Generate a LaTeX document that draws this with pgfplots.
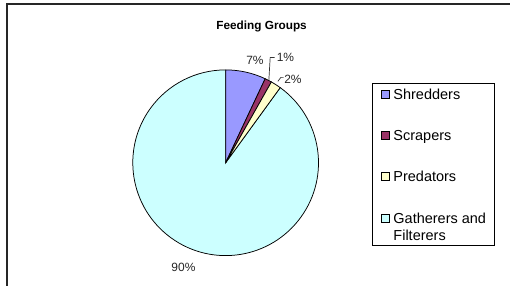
\documentclass[border=0pt]{standalone}
\usepackage{pgfplots}
\pgfplotsset{compat=1.18}
\usepackage{pgfplotstable}
\usepackage{fontspec}
\setmainfont{Liberation Sans}
\definecolor{shred}{RGB}{153,153,255}
\definecolor{scrap}{RGB}{153,51,102}
\definecolor{pred}{RGB}{255,255,204}
\definecolor{gath}{RGB}{204,255,255}

\pgfplotstableread{
name value
Shredders 7.0
Scrapers 1.2
Predators 1.8
Gatherers 90.0
}\pietable

\begin{document}
\begin{tikzpicture}
\pgfplotstablegetelem{0}{value}\of\pietable \let\vA\pgfplotsretval
\pgfplotstablegetelem{1}{value}\of\pietable \let\vB\pgfplotsretval
\pgfplotstablegetelem{2}{value}\of\pietable \let\vC\pgfplotsretval
\pgfplotstablegetelem{3}{value}\of\pietable \let\vD\pgfplotsretval
\pgfmathsetmacro\aA{90-3.6*\vA}
\pgfmathsetmacro\aB{\aA-3.6*\vB}
\pgfmathsetmacro\aC{\aB-3.6*\vC}
\pgfmathsetmacro\aD{\aC-3.6*\vD}
\begin{axis}[
  scale only axis, width=511bp, height=286bp,
  xmin=0, xmax=511, ymin=0, ymax=286, y dir=reverse,
  hide axis, clip=false,
  legend cell align=left,
  legend style={
    at={(axis cs:373,83)}, anchor=north west,
    draw=black, line width=0.75bp,
    inner xsep=8bp, inner ysep=4bp,
    row sep=28bp, column sep=4bp,
    font=\fontsize{14.5bp}{17bp}\selectfont,
    nodes={inner sep=0bp},
  },
]
\path (axis cs:0,0) rectangle (axis cs:511,286);
% frame
\draw[black!85, line width=1.6bp] (axis cs:6.8,286) -- (axis cs:6.8,3.8) -- (axis cs:511,3.8);
% title
\node[anchor=base, inner sep=0pt, font=\fontsize{11.8bp}{14bp}\selectfont\bfseries] at (axis cs:262,29.5) {Feeding Groups};
% slices
\filldraw[fill=gath, draw=black, line width=0.75bp] (axis cs:226,163) -- ++(\aC:93bp) arc[start angle=\aC, end angle=\aD, radius=93bp] -- cycle;
\filldraw[fill=shred, draw=black, line width=0.75bp] (axis cs:226,163) -- ++(90:93bp) arc[start angle=90, end angle=\aA, radius=93bp] -- cycle;
\filldraw[fill=scrap, draw=black, line width=0.75bp] (axis cs:226,163) -- ++(\aA:93bp) arc[start angle=\aA, end angle=\aB, radius=93bp] -- cycle;
\filldraw[fill=pred, draw=black, line width=0.75bp] (axis cs:226,163) -- ++(\aB:93bp) arc[start angle=\aB, end angle=\aC, radius=93bp] -- cycle;
% labels
\begin{scope}[every node/.style={inner sep=0pt, anchor=base west, font=\fontsize{12bp}{14bp}\selectfont, text=black!85}]
\node at (axis cs:246.5,65) {7\%};
\node at (axis cs:277,61.5) {1\%};
\node at (axis cs:284.5,84) {2\%};
\node at (axis cs:171.5,271.5) {90\%};
\end{scope}
\draw[black!80, line width=0.7bp] (axis cs:269.3,80) -- (axis cs:270.6,57.5) -- (axis cs:275,57.5);
\draw[black!80, line width=0.7bp] (axis cs:278.3,81.5) -- (axis cs:281.3,77.5) -- (axis cs:284,77.5);
% legend
\addlegendimage{legend image code/.code={\filldraw[fill=shred,draw=black,line width=0.7bp] (0bp,-4bp) rectangle (8bp,4bp);}}
\addlegendentry{\strut Shredders}
\addlegendimage{legend image code/.code={\filldraw[fill=scrap,draw=black,line width=0.7bp] (0bp,-4bp) rectangle (8bp,4bp);}}
\addlegendentry{\strut Scrapers}
\addlegendimage{legend image code/.code={\filldraw[fill=pred,draw=black,line width=0.7bp] (0bp,-4bp) rectangle (8bp,4bp);}}
\addlegendentry{\strut Predators}
\addlegendimage{legend image code/.code={\filldraw[fill=gath,draw=black,line width=0.7bp] (0bp,4.5bp) rectangle (8bp,12.5bp);}}
\addlegendentry[align=left]{\strut Gatherers and\\\strut Filterers}
\end{axis}
\end{tikzpicture}
\end{document}
